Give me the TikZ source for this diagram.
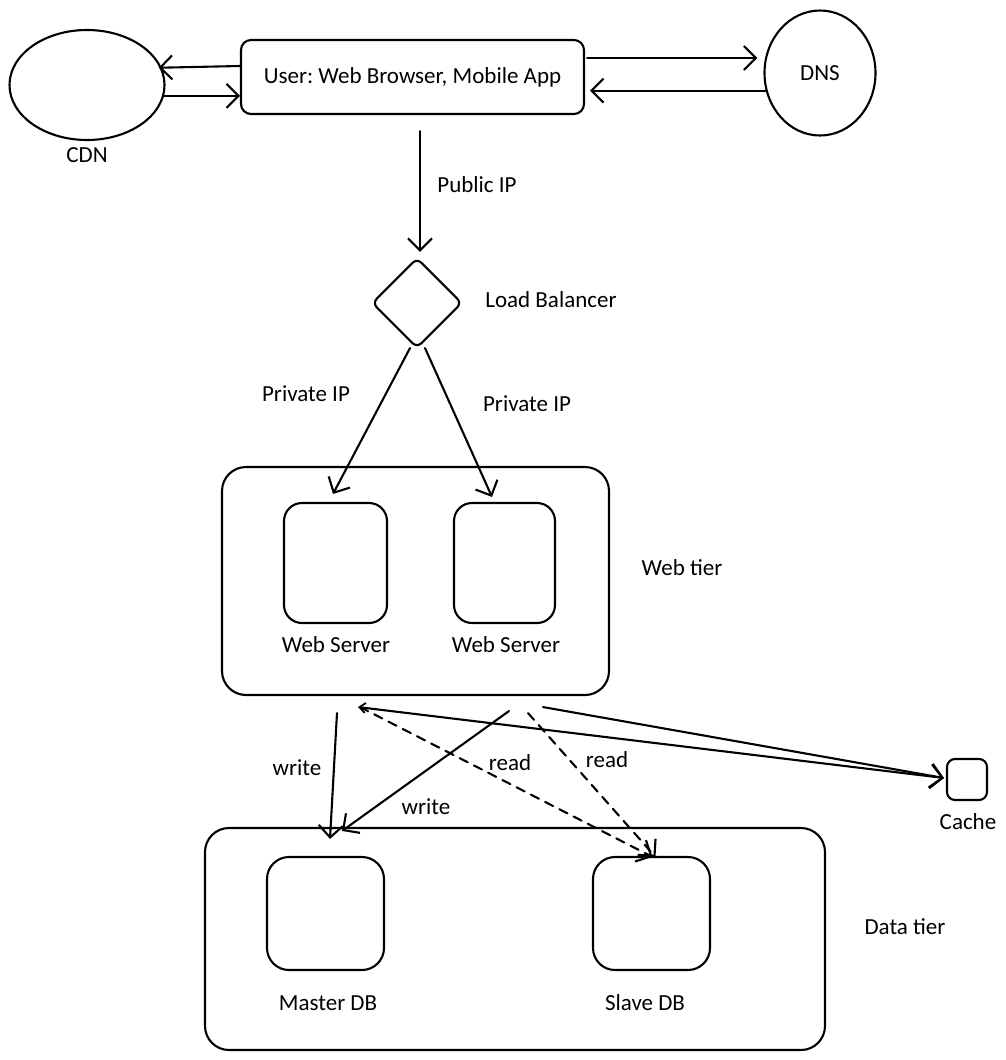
\documentclass[tikz,border=0pt]{standalone}
\usepackage{fontspec}
\setmainfont{Carlito}
\usetikzlibrary{arrows.meta,shapes.geometric,calc}
\frenchspacing
\begin{document}
\begin{tikzpicture}[x=1pt,y=1pt,
  every node/.style={font=\fontsize{23}{26}\selectfont},
  stroke/.style={line width=2.1pt, line cap=round, line join=round},
  box/.style={stroke, draw, rectangle, inner sep=0pt},
  lbl/.style={inner sep=0pt},
  arr/.style={stroke, -{Straight Barb[length=12pt,width=24pt,line width=2.1pt]}},
  dsh/.style={arr, dash pattern=on 9pt off 7pt}
]
\useasboundingbox (0,0) rectangle (1006,-1060);
% top row
\node[stroke, draw, ellipse, minimum width=155pt, minimum height=110pt, inner sep=0pt] (cdn) at (87,-85) {};
\node[lbl] (cdnl) at (87,-155) {CDN};
\node[box, rounded corners=10pt, minimum width=343pt, minimum height=74pt] (user) at (412.5,-77) {User: Web Browser, Mobile App};
\node[stroke, draw, ellipse, minimum width=111pt, minimum height=125pt, inner sep=0pt] (dns) at (820,-73) {DNS};
\draw[arr] ([yshift=11pt]user.west) -- ([xshift=-3pt]cdn.13);
\draw[arr] (cdn.-8) -- (user.west |- cdn.-8);
\draw[arr] ([yshift=19pt, xshift=2pt]user.east) -- ([xshift=-6pt, yshift=19pt]dns.west |- user.east);
\draw[arr] (dns.198) -- ([xshift=5pt]user.east |- dns.198);
% load balancer
\node[stroke, draw, diamond, rounded corners=6pt, minimum width=90pt, minimum height=90pt, inner sep=0pt] (lb) at (417,-303) {};
\node[lbl] (lbl1) at (551,-300) {Load Balancer};
\draw[arr] ([xshift=7.5pt,yshift=-16pt]user.south) -- ([xshift=3pt,yshift=5pt]lb.north);
\node[lbl] (pub) at (477,-185) {Public IP};
% web tier
\node[box, rounded corners=24pt, minimum width=387pt, minimum height=228pt] (web) at (415.5,-581) {};
\node[lbl] (webl) at (682,-568) {Web tier};
\node[box, rounded corners=18pt, minimum width=103pt, minimum height=120pt] (ws1) at (335.5,-563) {};
\node[box, rounded corners=18pt, minimum width=101pt, minimum height=120pt] (ws2) at (504.5,-563) {};
\node[lbl] (ws1l) at (336,-645) {Web Server};
\node[lbl] (ws2l) at (506,-645) {Web Server};
\draw[arr] ([xshift=-7pt,yshift=1pt]lb.south) -- ([xshift=-2.5pt,yshift=8pt]ws1.north);
\draw[arr] ([xshift=8pt,yshift=1pt]lb.south) -- ([xshift=-12.5pt,yshift=5pt]ws2.north);
\node[lbl] (pr1) at (306,-394) {Private IP};
\node[lbl] (pr2) at (527,-404) {Private IP};
% data tier
\node[box, rounded corners=24pt, minimum width=620pt, minimum height=222pt] (data) at (515,-939) {};
\node[lbl] (datal) at (905,-927) {Data tier};
\node[box, rounded corners=22pt, minimum width=117pt, minimum height=113pt] (master) at (325.5,-913.5) {};
\node[box, rounded corners=22pt, minimum width=117pt, minimum height=113pt] (slave) at (651.5,-913.5) {};
\node[lbl] (masterl) at (328,-1003) {Master DB};
\node[lbl] (slavel) at (645,-1003) {Slave DB};
% cache
\node[box, rounded corners=8pt, minimum width=40pt, minimum height=41pt] (cache) at (967,-779.5) {};
\node[lbl] (cachel) at (968,-822) {Cache};
% data connectors
\draw[arr] ([xshift=-78.5pt,yshift=-17pt]web.south) -- ([xshift=4.5pt,yshift=17pt]master.north);
\draw[arr] ([xshift=93.5pt,yshift=-15pt]web.south) -- ([xshift=16.5pt,yshift=25pt]master.north);
\draw[dsh] ([xshift=-55.5pt,yshift=-11pt]web.south) -- ([xshift=1pt,yshift=-1pt]slave.north);
\draw[dsh] ([xshift=112.5pt,yshift=-17pt]web.south) -- ([xshift=4pt,yshift=-1pt]slave.north);
\draw[stroke, {Straight Barb[length=6pt,width=10pt,line width=1.8pt]}-{Straight Barb[length=12pt,width=24pt,line width=2.1pt]}] ([xshift=-57.5pt,yshift=-11pt]web.south) -- ([xshift=-2pt,yshift=1.5pt]cache.west);
\draw[arr] ([xshift=127.5pt,yshift=-11pt]web.south) -- ([xshift=-2pt,yshift=1.5pt]cache.west);
\node[lbl] (w1) at (297,-768) {write};
\node[lbl] (w2) at (426,-807) {write};
\node[lbl] (r1) at (510,-763) {read};
\node[lbl] (r2) at (607,-760) {read};
\end{tikzpicture}
\end{document}
